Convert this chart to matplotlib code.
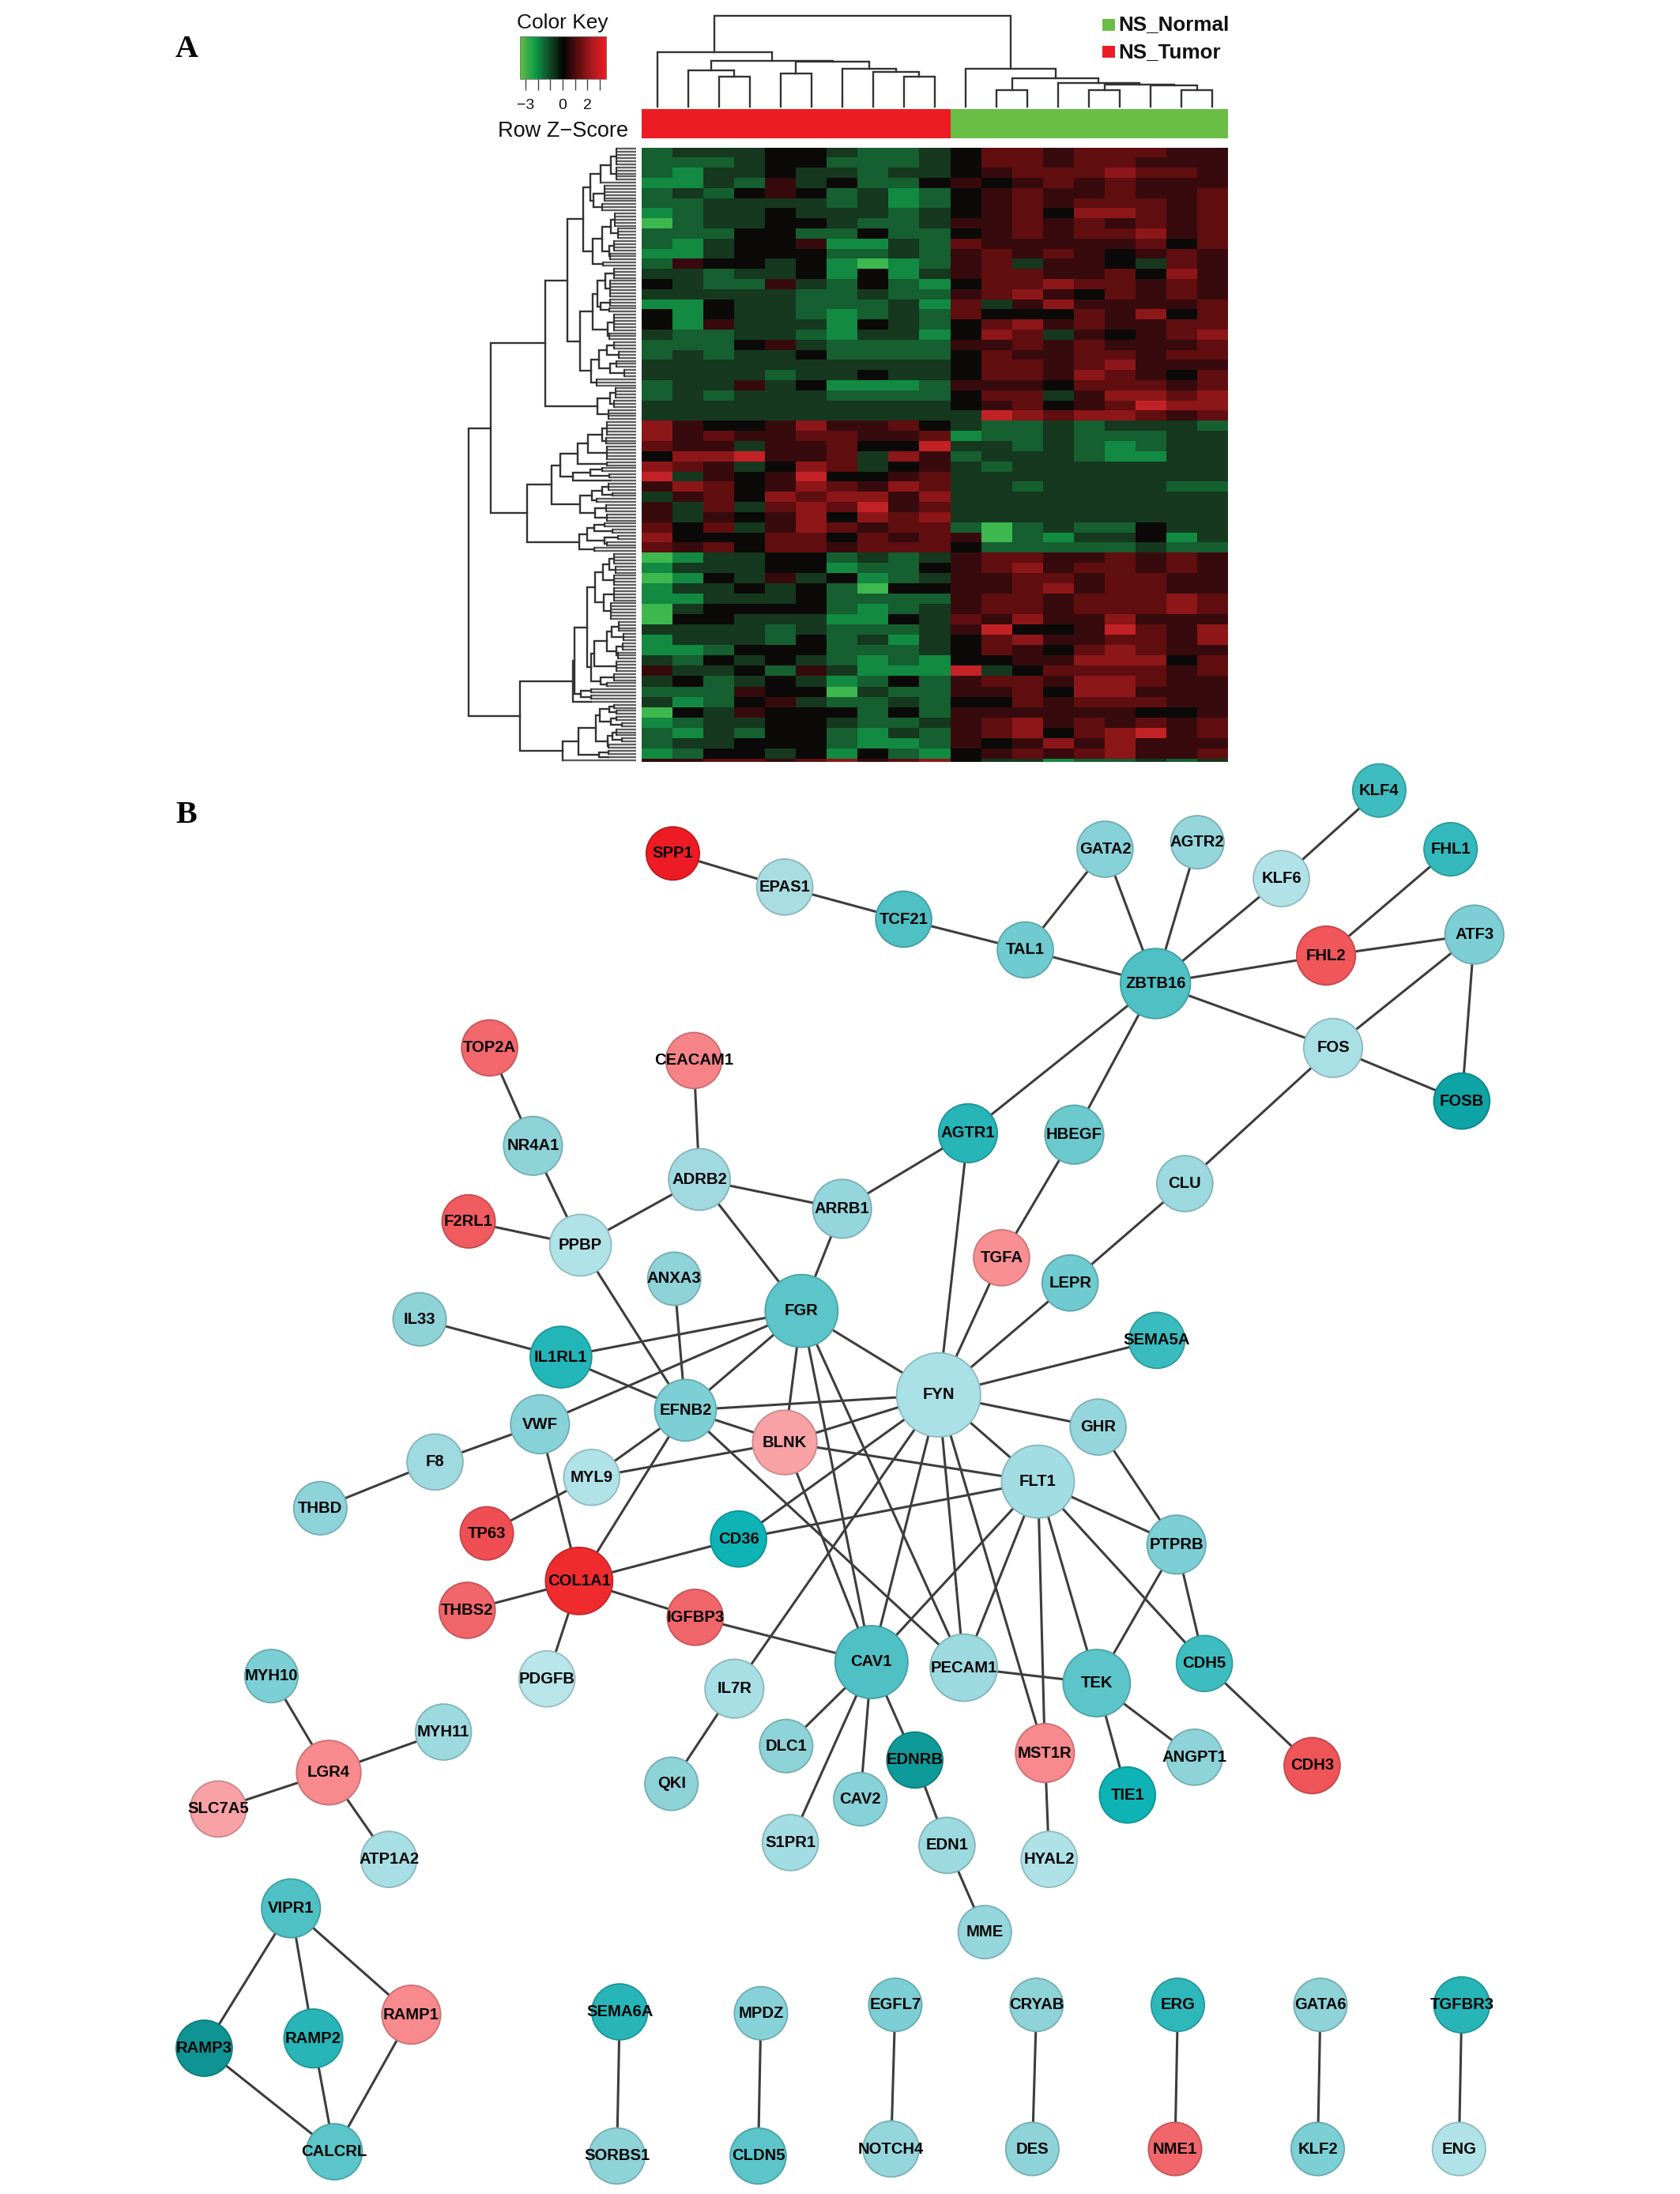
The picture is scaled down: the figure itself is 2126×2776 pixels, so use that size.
#!/usr/bin/env python3
"""
plot.py

Heat map with dendrograms (A) and gene interaction network (B).
Canvas axes run in reference pixels, y pointing down.
"""

import numpy as np
import matplotlib
matplotlib.use("Agg")
import matplotlib.pyplot as plt
from matplotlib.colors import LinearSegmentedColormap
from matplotlib.patches import Circle, Rectangle

# ─── Heat map values: one digit per sample, 0 = strong green, 4 = black, 8 = strong red ───
HEAT_UPPER = [
    "2333443223466566655", "2223442223466566555", "2133433233456667665",
    "1132534224545656555", "2324542312456556556", "2233332312456566656",
    "1233433323456477656", "0233443223556565656", "2224422422456566756",
    "2134451132655555646", "1134442232565654565", "2544341012563554365",
    "3323341413566556475", "4322532421466766565", "3333322322567546565",
    "1143322231635755556", "4143321232644465746", "4153331432467565566",
    "3223321331476354567", "2224532222556565556", "2323342222465566566",
    "3333333333466567555", "3333233433466576546", "2335341112555466656",
    "2323332222466357767", "3333333333456456877", "3333333333387677656",
]
HEAT_MIDDLE = [
    "7544575564322323332", "7565566556122322233", "6553556448332321233",
    "4778556375233321133", "7653476345323333333", "8354584456333333333",
    "5764576576332333322", "3564767757333333333", "5363676856333333333",
    "5354574767333333333", "6463576566202322433", "7444664656502133413",
    "6564665666422222322",
]
HEAT_LOWER = [
    "0133442323566556565", "1333441224567566565", "0143534123556656655",
    "1334342044556756655", "1133342222566566676", "0344442123566566676",
    "0443331143657557555", "3333232223584458657", "1333242313467556657",
    "1124442223465467655", "3243432121445577746", "5334253111834666656",
    "3423431242566577655", "2225440322556477555", "3124532232446566655",
    "0435444242555555445", "1233443223567565656", "2132442132567467856",
    "2334442112545757555", "1244341421456567556",
]
HEAT_LAST = ["5566567567433122323"]
GENES_PER_BLOCK = [89, 43, 67, 1]

# Column tree: (merge y, left, right), integers are sample numbers
COL_TREE = (60,
            (197, 0,
             (230, (268, 1, (290, 2, 3)),
              (235, (278, 4, 5), (262, 6, (272, 7, (290, 8, 9)))))),
            (262, 10,
             (297, (342, 11, 12),
              (315, 13, (322, (342, 14, 15), (325, 16, (342, 17, 18)))))))

# Row tree: (merge x, upper, lower), a pair (x, n) is a fan of n genes
ROW_TREE = (40,
            (122,
             (330,
              (413,
               (475,
                (500,
                 (540, (578, (600, 6), (600, 5)), (540, 1)),
                 (512, (555, 6), (545, 3))),
                (510,
                 (545, (578, (595, 5), (605, 4)), (572, (590, 4), (575, 3))),
                 (548, 2))),
               (462,
                (510,
                 (528, (557, (590, 4), (575, 6)), (540, (575, 3), (572, 2))),
                 (567, (590, 6), (572, 3))),
                (505,
                 (535, (565, (590, 3), (610, 3)), (575, (600, 3), (630, 3))),
                 (525, 3)))),
              (527, (575, (597, 4), (590, 3)), (570, 4))),
             (262,
              (355,
               (388,
                (452, (492, (545, (565, 5), (560, 3)), (565, 5)), (565, 2)),
                (435, (500, (545, 2), (572, 2)), (575, 1))),
               (463,
                (508, (545, (570, 3), (585, 2)), (525, 2)),
                (520, (562, 3), (565, 3)))),
              (460,
               (490, (515, (555, 2), (585, 2)), (555, (607, 2), (565, 2))),
               (515, 2)))),
            (233,
             (435,
              (441,
               (490,
                (520,
                 (548, (572, (590, 4), (598, 3)), (590, 4)),
                 (553, (590, 5), (580, 6))),
                (503,
                 (515,
                  (565, (582, (610, 4), (628, 3)), (600, (625, 3), (605, 3))),
                  (600, 4)),
                 (540, (590, 3), (565, 2)))),
               (465, (505, 2), (505, 2))),
              (505, 1)),
             (397,
              (455,
               (523,
                (538, (572, (590, 2), (600, 2)), (578, (600, 2), (620, 2))),
                (568, (585, (600, 3), (620, 2)), (570, 2))),
               (535, (570, 2), (570, 1))),
              (397, 1))))

KEY_TICKS = [-3, -2, -1, 0, 1, 2, 3]
KEY_LABELS = [-3, 0, 2]

# ─── Network ─────────────────────────────────────────────────────────────────
NODE_NAMES = [
    "SPP1", "EPAS1", "TCF21", "TAL1", "GATA2", "AGTR2", "KLF6", "KLF4", "FHL1", "ATF3",
    "FHL2", "ZBTB16", "FOS", "FOSB", "TOP2A", "CEACAM1", "NR4A1", "ADRB2", "AGTR1", "HBEGF",
    "ARRB1", "CLU", "F2RL1", "PPBP", "TGFA", "LEPR", "ANXA3", "IL33", "FGR", "IL1RL1",
    "SEMA5A", "FYN", "EFNB2", "VWF", "GHR", "BLNK", "F8", "MYL9", "FLT1", "THBD",
    "TP63", "PTPRB", "CD36", "COL1A1", "THBS2", "IGFBP3", "CDH5", "CAV1", "PECAM1", "TEK",
    "IL7R", "PDGFB", "MYH10", "MYH11", "LGR4", "DLC1", "EDNRB", "MST1R", "ANGPT1", "CDH3",
    "TIE1", "QKI", "CAV2", "SLC7A5", "ATP1A2", "S1PR1", "EDN1", "HYAL2", "MME", "VIPR1",
    "RAMP1", "RAMP2", "RAMP3", "CALCRL", "SEMA6A", "SORBS1", "MPDZ", "CLDN5", "EGFL7", "NOTCH4",
    "CRYAB", "DES", "ERG", "NME1", "GATA6", "KLF2", "TGFBR3", "ENG",
]
NODE_X = [
    481, 561, 646, 733, 790, 856, 916, 986, 1037, 1054,
    948, 826, 953, 1045, 350, 496, 381, 500, 692, 768,
    602, 847, 335, 415, 716, 765, 482, 300, 573, 401,
    827, 671, 490, 386, 785, 561, 311, 423, 742, 229,
    348, 841, 528, 414, 334, 497, 861, 623, 689, 784,
    525, 391, 194, 317, 235, 562, 654, 747, 854, 938,
    806, 480, 615, 156, 278, 565, 677, 750, 704, 208,
    294, 224, 146, 239, 443, 441, 544, 542, 640, 637,
    741, 738, 842, 840, 944, 942, 1045, 1043,
]
NODE_Y = [
    610, 634, 657, 679, 607, 602, 628, 565, 607, 668,
    683, 703, 749, 787, 749, 758, 819, 843, 810, 811,
    864, 846, 873, 890, 899, 917, 914, 943, 937, 970,
    958, 997, 1008, 1018, 1020, 1031, 1045, 1056, 1059, 1078,
    1096, 1104, 1100, 1130, 1151, 1156, 1189, 1188, 1192, 1203,
    1207, 1200, 1198, 1238, 1267, 1248, 1258, 1253, 1256, 1262,
    1283, 1275, 1286, 1293, 1329, 1317, 1319, 1329, 1381, 1364,
    1440, 1457, 1464, 1538, 1438, 1541, 1439, 1541, 1433, 1536,
    1433, 1536, 1433, 1536, 1433, 1536, 1433, 1536,
]
NODE_R = [
    19, 20, 20, 20, 20, 19, 20, 19, 19, 21,
    21, 25, 21, 20, 20, 20, 21, 22, 21, 21,
    21, 20, 19, 22, 20, 20, 19, 19, 26, 22,
    20, 30, 22, 21, 20, 23, 20, 20, 26, 19,
    19, 21, 20, 24, 20, 20, 20, 26, 24, 24,
    21, 20, 19, 20, 23, 19, 20, 21, 20, 20,
    20, 19, 19, 20, 20, 20, 20, 20, 19, 21,
    21, 21, 20, 20, 20, 20, 19, 20, 19, 20,
    19, 19, 19, 19, 19, 19, 20, 19,
]
NODE_COLORS = [
    "#ed1c24", "#a8dde2", "#4fc0c3", "#6fcbd0", "#86d2d8", "#94d6dc", "#b0e2e8", "#3fbcbf", "#33b9bb", "#7dcfd5",
    "#f0565a", "#4fc1c5", "#a8e0e6", "#0ea3a5", "#f2686c", "#f58388", "#8dd3d8", "#a0dae0", "#27b5b8", "#6bc9cd",
    "#94d6dc", "#9cd9de", "#ef5b5f", "#b0e3e8", "#f78f93", "#6fcbd0", "#8ed3d8", "#8ed3d8", "#5cc5c9", "#22b6b9",
    "#3abbbd", "#aae1e7", "#7ccfd4", "#86d2d8", "#94d6dc", "#f9a2a6", "#9edae0", "#b0e3e8", "#a2dde3", "#8dd3d8",
    "#ef4f54", "#7ccfd4", "#0db3b5", "#ef2b2e", "#f0666a", "#f0666a", "#3dbdbf", "#4fc1c5", "#9cdadf", "#5cc5c9",
    "#a8dfe4", "#b8e6ea", "#7ccfd4", "#9cdadf", "#f8898d", "#8dd3d8", "#0f9a9a", "#f8898d", "#8dd3d8", "#ef5458",
    "#0db3b5", "#8dd3d8", "#86d2d8", "#f9a2a6", "#a8dfe4", "#a2dde3", "#9cdadf", "#aee2e7", "#94d6dc", "#4fc0c3",
    "#f8898d", "#27b5b8", "#0f9494", "#5cc5c9", "#27b5b8", "#8dd3d8", "#86d2d8", "#5cc5c9", "#7ccfd4", "#94d6dc",
    "#8dd3d8", "#8dd3d8", "#2fb8ba", "#f0666a", "#8dd3d8", "#7ccfd4", "#27b5b8", "#b0e3e8",
]
EDGES = [
    ("SPP1", "EPAS1"), ("EPAS1", "TCF21"), ("TCF21", "TAL1"), ("TAL1", "ZBTB16"), ("TAL1", "GATA2"),
    ("GATA2", "ZBTB16"), ("AGTR2", "ZBTB16"), ("KLF6", "ZBTB16"), ("KLF6", "KLF4"), ("FHL1", "FHL2"),
    ("FHL2", "ZBTB16"), ("FHL2", "ATF3"), ("ATF3", "FOS"), ("ATF3", "FOSB"), ("FOS", "FOSB"),
    ("FOS", "ZBTB16"), ("FOS", "CLU"), ("CLU", "LEPR"), ("ZBTB16", "AGTR1"), ("ZBTB16", "HBEGF"),
    ("HBEGF", "TGFA"), ("AGTR1", "ARRB1"), ("AGTR1", "FYN"), ("ARRB1", "ADRB2"), ("ARRB1", "FGR"),
    ("ADRB2", "FGR"), ("ADRB2", "CEACAM1"), ("ADRB2", "PPBP"), ("TOP2A", "NR4A1"), ("NR4A1", "PPBP"),
    ("F2RL1", "PPBP"), ("PPBP", "EFNB2"), ("ANXA3", "EFNB2"), ("TGFA", "FYN"), ("LEPR", "FYN"),
    ("SEMA5A", "FYN"), ("IL33", "IL1RL1"), ("IL1RL1", "EFNB2"), ("IL1RL1", "FGR"), ("FGR", "EFNB2"),
    ("FGR", "VWF"), ("FGR", "FYN"), ("FGR", "BLNK"), ("FGR", "CAV1"), ("FGR", "PECAM1"),
    ("FYN", "EFNB2"), ("FYN", "BLNK"), ("FYN", "GHR"), ("FYN", "FLT1"), ("FYN", "CD36"),
    ("FYN", "IL7R"), ("FYN", "CAV1"), ("FYN", "PECAM1"), ("FYN", "MST1R"), ("EFNB2", "BLNK"),
    ("EFNB2", "PECAM1"), ("EFNB2", "MYL9"), ("EFNB2", "COL1A1"), ("BLNK", "CAV1"), ("BLNK", "FLT1"),
    ("MYL9", "BLNK"), ("MYL9", "TP63"), ("VWF", "F8"), ("F8", "THBD"), ("VWF", "COL1A1"),
    ("FLT1", "CD36"), ("FLT1", "CAV1"), ("FLT1", "PECAM1"), ("FLT1", "MST1R"), ("FLT1", "TEK"),
    ("FLT1", "CDH5"), ("FLT1", "PTPRB"), ("GHR", "PTPRB"), ("PTPRB", "TEK"), ("PTPRB", "CDH5"),
    ("CDH5", "CDH3"), ("TEK", "PECAM1"), ("TEK", "TIE1"), ("TEK", "ANGPT1"), ("COL1A1", "CD36"),
    ("COL1A1", "IGFBP3"), ("COL1A1", "THBS2"), ("COL1A1", "PDGFB"), ("IGFBP3", "CAV1"), ("IL7R", "QKI"),
    ("CAV1", "DLC1"), ("CAV1", "S1PR1"), ("CAV1", "CAV2"), ("CAV1", "EDNRB"), ("EDNRB", "EDN1"),
    ("EDN1", "MME"), ("MST1R", "HYAL2"), ("MYH10", "LGR4"), ("MYH11", "LGR4"), ("LGR4", "SLC7A5"),
    ("LGR4", "ATP1A2"), ("VIPR1", "RAMP3"), ("VIPR1", "RAMP2"), ("VIPR1", "RAMP1"), ("RAMP3", "CALCRL"),
    ("RAMP2", "CALCRL"), ("RAMP1", "CALCRL"), ("SEMA6A", "SORBS1"), ("MPDZ", "CLDN5"), ("EGFL7", "NOTCH4"),
    ("CRYAB", "DES"), ("ERG", "NME1"), ("GATA6", "KLF2"), ("TGFBR3", "ENG"),
]

# ─── Layout (reference pixels) ───────────────────────────────────────────────
WIDTH, HEIGHT = 2126, 2776
NET_SCALE = 2126 / 1201
HEAT_LEFT, HEAT_RIGHT = 812, 1554
HEAT_TOP, HEAT_BOTTOM = 186.5, 963.5
N_TUMOR = 10
GREEN = "#6abd45"
RED = "#ed1c24"
TREE_COLOR = "#333333"
LEAF_COLOR = "#5e5e5e"
LEAF_X = 805
FONT = "Liberation Sans"

heat_cmap = LinearSegmentedColormap.from_list(
    "green_black_red",
    ["#3cb84e", "#128a42", "#155f30", "#15391e", "#0a0a08",
     "#360b0d", "#5f0e10", "#8c1618", "#c22226"],
)
key_cmap = LinearSegmentedColormap.from_list(
    "key", ["#62bb46", "#0f9d48", "#0f4d28", "#050505", "#5a0c0e", "#a81a1e", "#ed1c24"]
)

fig = plt.figure(figsize=(WIDTH / 100, HEIGHT / 100), dpi=100)
ax = fig.add_axes([0, 0, 1, 1])


def heat_panel():
    blocks = [HEAT_UPPER, HEAT_MIDDLE, HEAT_LOWER, HEAT_LAST]
    gene_h = (HEAT_BOTTOM - HEAT_TOP) / sum(GENES_PER_BLOCK)
    edges = [np.array([HEAT_TOP])]
    start = HEAT_TOP
    for rows, genes in zip(blocks, GENES_PER_BLOCK):
        stop = start + genes * gene_h
        edges.append(np.linspace(start, stop, len(rows) + 1)[1:])
        start = stop
    y_edges = np.concatenate(edges)
    values = np.array([[int(c) for c in row] for rows in blocks for row in rows])
    x_edges = np.linspace(HEAT_LEFT, HEAT_RIGHT, values.shape[1] + 1)
    ax.pcolormesh(x_edges, y_edges, values, cmap=heat_cmap, vmin=0, vmax=8,
                  antialiased=False, zorder=1)

    # sample colour bar
    split = x_edges[N_TUMOR]
    ax.add_patch(Rectangle((HEAT_LEFT, 138), split - HEAT_LEFT, 37, color=RED, lw=0))
    ax.add_patch(Rectangle((split, 138), HEAT_RIGHT - split, 37, color=GREEN, lw=0))
    return x_edges, gene_h


def draw_col_tree(node, centers):
    if isinstance(node, int):
        return centers[node], 135
    y, left, right = node
    lx, ly = draw_col_tree(left, centers)
    rx, ry = draw_col_tree(right, centers)
    ax.plot([lx, lx, rx, rx], [ly, y / 3, y / 3, ry], color=TREE_COLOR, lw=1.7,
            solid_joinstyle="miter", zorder=2)
    return (lx + rx) / 2, y / 3


def draw_row_tree(node, first, gene_h):
    """Returns node x, node y and the next free gene number."""
    x = 580 + node[0] / 3
    if len(node) == 2:
        ys = HEAT_TOP + (np.arange(first, first + node[1]) + 0.5) * gene_h
        ax.hlines(ys, x, LEAF_X, color=LEAF_COLOR, lw=1.7, zorder=2)
        if node[1] > 1:
            ax.plot([x, x], [ys[0], ys[-1]], color=TREE_COLOR, lw=1.5, zorder=3)
        return x, ys.mean(), first + node[1]
    ux, uy, nxt = draw_row_tree(node[1], first, gene_h)
    lx, ly, nxt = draw_row_tree(node[2], nxt, gene_h)
    ax.plot([ux, x, x, lx], [uy, uy, ly, ly], color=TREE_COLOR, lw=1.7,
            solid_joinstyle="miter", zorder=3)
    return x, (uy + ly) / 2, nxt


def key_panel():
    z = np.linspace(-3.45, 3.5, 120)
    x_of = lambda v: 712 + 15.6 * np.asarray(v)
    ax.pcolormesh(x_of(np.append(z, 3.56)), [46, 100], z[np.newaxis, :],
                  cmap=key_cmap, vmin=-3.45, vmax=3.5, zorder=1)
    ax.add_patch(Rectangle((x_of(-3.45), 46), x_of(3.5) - x_of(-3.45), 54,
                           fill=False, ec="#777777", lw=0.6, zorder=2))
    ax.vlines(x_of(KEY_TICKS), 100, 114, color="#444444", lw=1.0)
    for v in KEY_LABELS:
        ax.text(x_of(v), 133, f"{v:d}".replace("-", "\u2212"), ha="center", va="center",
                fontsize=14, family=FONT, color="#111111")
    ax.text(712, 29, "Color Key", ha="center", va="center", fontsize=19, family=FONT,
            color="#111111")
    ax.text(713, 166, "Row Z\u2212Score", ha="center", va="center", fontsize=19.5, family=FONT,
            color="#111111")

    # sample legend
    ax.add_patch(Rectangle((1395, 24), 16, 15, color=GREEN, lw=0))
    ax.add_patch(Rectangle((1395, 58), 16, 15, color=RED, lw=0))
    ax.text(1415, 31, "NS_Normal", ha="left", va="center", fontsize=18.7, family=FONT,
            fontweight="bold", color="#111111")
    ax.text(1415, 66, "NS_Tumor", ha="left", va="center", fontsize=18.7, family=FONT,
            fontweight="bold", color="#111111")


def network_panel():
    where = {n: i for i, n in enumerate(NODE_NAMES)}
    xs = np.array(NODE_X) * NET_SCALE
    ys = np.array(NODE_Y) * NET_SCALE
    for a, b in EDGES:
        i, j = where[a], where[b]
        ax.plot([xs[i], xs[j]], [ys[i], ys[j]], color="#3d3d3d", lw=2.2, zorder=4,
                solid_capstyle="butt")
    for name, x, y, r, c in zip(NODE_NAMES, xs, ys, NODE_R, NODE_COLORS):
        edge = tuple(0.82 * v for v in matplotlib.colors.to_rgb(c))
        ax.add_patch(Circle((x, y), r * NET_SCALE, facecolor=c, edgecolor=edge, lw=1.3, zorder=5))
        ax.text(x, y, name, ha="center", va="center", fontsize=14.6, family=FONT,
                fontweight="bold", color="#050505", zorder=6)


x_edges, gene_h = heat_panel()
draw_col_tree(COL_TREE, (x_edges[:-1] + x_edges[1:]) / 2)
draw_row_tree(ROW_TREE, 0, gene_h)
key_panel()
network_panel()

ax.text(236, 62, "A", ha="center", va="center", fontsize=29, family="Liberation Serif",
        fontweight="bold", color="black")
ax.text(236, 1031, "B", ha="center", va="center", fontsize=29, family="Liberation Serif",
        fontweight="bold", color="black")

ax.set_xlim(0, WIDTH)
ax.set_ylim(HEIGHT, 0)
ax.axis("off")

fig.savefig("out.png", dpi=100, facecolor="white")
